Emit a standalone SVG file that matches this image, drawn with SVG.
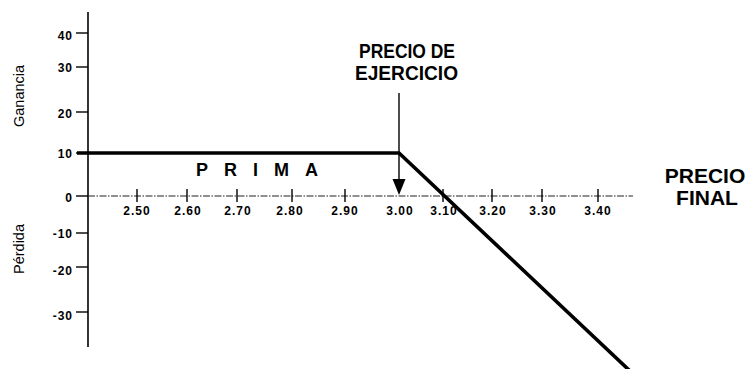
<svg xmlns="http://www.w3.org/2000/svg" width="754" height="369" viewBox="0 0 754 369">
<style>
.ax{stroke:#000;stroke-width:1.6;fill:none}
.tk{stroke:#000;stroke-width:1.4}
.xa{stroke:#222;stroke-width:1.2;stroke-dasharray:7 1.5 1.5 1.5}
.pay{stroke:#000;stroke-width:3.6;fill:none;stroke-linejoin:miter}
.yl{font-family:"Liberation Sans",Arial,sans-serif;font-size:12px;font-weight:bold;letter-spacing:1px;text-anchor:end;fill:#000}
.xl{font-family:"Liberation Sans",Arial,sans-serif;font-size:12px;font-weight:bold;letter-spacing:1px;text-anchor:middle;fill:#000}
.big{font-family:"Liberation Sans",Arial,sans-serif;font-size:21px;font-weight:bold;fill:#000}
.side{font-family:"Liberation Sans",Arial,sans-serif;font-size:14.5px;fill:#000;text-anchor:middle}
</style>
<rect width="754" height="369" fill="#fff"/>
<g id="y-axis">
<line class="ax" x1="88" y1="12" x2="88" y2="347"/>
<line class="tk" x1="76" y1="33" x2="88" y2="33"/>
<line class="tk" x1="76" y1="67" x2="88" y2="67"/>
<line class="tk" x1="76" y1="112" x2="88" y2="112"/>
<line class="tk" x1="76" y1="153" x2="88" y2="153"/>
<line class="tk" x1="76" y1="196" x2="88" y2="196"/>
<line class="tk" x1="76" y1="233" x2="88" y2="233"/>
<line class="tk" x1="76" y1="267" x2="88" y2="267"/>
<line class="tk" x1="76" y1="312" x2="88" y2="312"/>
<text class="yl" x="73" y="40">40</text>
<text class="yl" x="73" y="72">30</text>
<text class="yl" x="73" y="118">20</text>
<text class="yl" x="73" y="158">10</text>
<text class="yl" x="73" y="202">0</text>
<text class="yl" x="73" y="238">-10</text>
<text class="yl" x="73" y="275">-20</text>
<text class="yl" x="73" y="320">-30</text>
<text class="side" transform="translate(24,96) rotate(-90)">Ganancia</text>
<text class="side" transform="translate(24,249) rotate(-90)">Pérdida</text>
</g>
<g id="x-axis">
<line class="xa" x1="88" y1="196" x2="633" y2="196"/>
<g class="tk">
<line x1="137" y1="189" x2="137" y2="202"/>
<line x1="187" y1="189" x2="187" y2="202"/>
<line x1="237" y1="189" x2="237" y2="202"/>
<line x1="292" y1="189" x2="292" y2="202"/>
<line x1="345" y1="189" x2="345" y2="202"/>
<line x1="443" y1="189" x2="443" y2="202"/>
<line x1="492" y1="189" x2="492" y2="202"/>
<line x1="542" y1="189" x2="542" y2="202"/>
<line x1="598" y1="189" x2="598" y2="202"/>
</g>
<text class="xl" x="137" y="215">2.50</text>
<text class="xl" x="188" y="215">2.60</text>
<text class="xl" x="238" y="215">2.70</text>
<text class="xl" x="290" y="215">2.80</text>
<text class="xl" x="345" y="215">2.90</text>
<text class="xl" x="400" y="215">3.00</text>
<text class="xl" x="444" y="215">3.10</text>
<text class="xl" x="493" y="215">3.20</text>
<text class="xl" x="543" y="215">3.30</text>
<text class="xl" x="598" y="215">3.40</text>
</g>
<g id="connectors">
<polyline class="pay" points="77,153 399,153 630,371"/>
<line class="tk" x1="399" y1="93" x2="399" y2="182"/>
<polygon points="392.5,179 405.5,179 399,195" fill="#000"/>
</g>
<g id="label-prima">
<text x="196" y="176" font-family="Liberation Sans, Arial, sans-serif" font-size="18" font-weight="bold" letter-spacing="16">PRIMA</text>
</g>
<g id="label-strike">
<text class="big" x="359" y="58" textLength="96" lengthAdjust="spacingAndGlyphs">PRECIO DE</text>
<text class="big" x="355" y="80" textLength="103" lengthAdjust="spacingAndGlyphs">EJERCICIO</text>
</g>
<g id="label-final">
<text class="big" x="705" y="183" text-anchor="middle">PRECIO</text>
<text class="big" x="707" y="205" text-anchor="middle">FINAL</text>
</g>
</svg>
